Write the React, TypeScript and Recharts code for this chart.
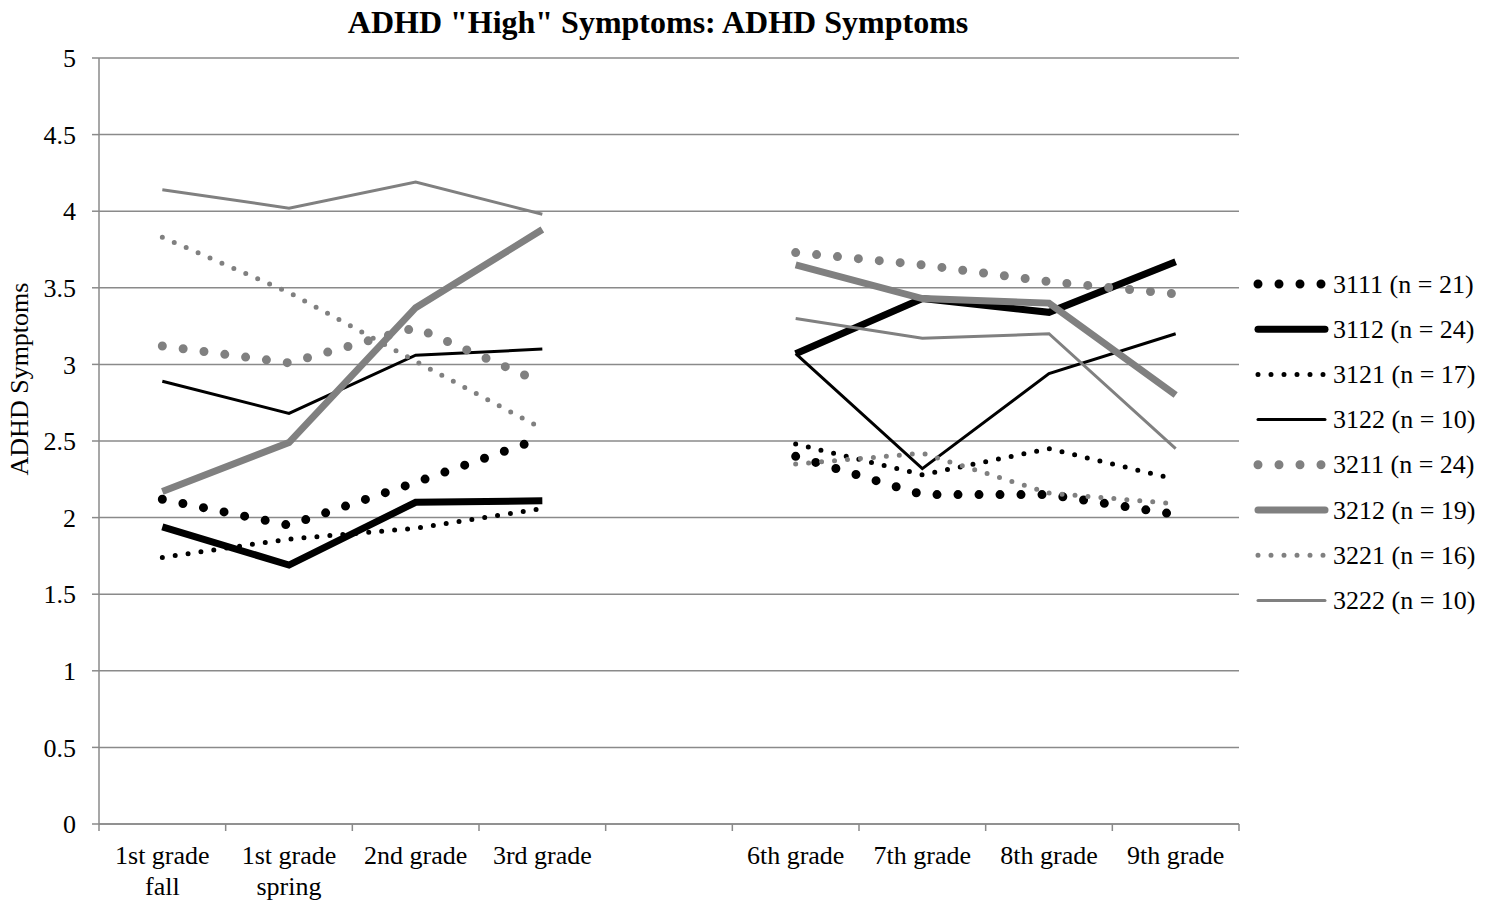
import React from "react";
import { LineChart, Line, XAxis, YAxis, CartesianGrid } from "recharts";

// grade points; the empty slot separates elementary from middle/high school
const categories = [
  "1st grade\nfall",
  "1st grade\nspring",
  "2nd grade",
  "3rd grade",
  "",
  "6th grade",
  "7th grade",
  "8th grade",
  "9th grade",
];

const s3111 = [2.12, 1.95, 2.23, 2.52, null, 2.4, 2.15, 2.15, 2.02];
const s3112 = [1.94, 1.69, 2.1, 2.11, null, 3.07, 3.43, 3.34, 3.67];
const s3121 = [1.74, 1.86, 1.93, 2.06, null, 2.48, 2.28, 2.45, 2.25];
const s3122 = [2.89, 2.68, 3.06, 3.1, null, 3.07, 2.32, 2.94, 3.2];
const s3211 = [3.12, 3.01, 3.24, 2.88, null, 3.73, 3.65, 3.54, 3.46];
const s3212 = [2.17, 2.49, 3.37, 3.88, null, 3.65, 3.43, 3.4, 2.8];
const s3221 = [3.83, 3.47, 3.02, 2.58, null, 2.35, 2.42, 2.16, 2.09];
const s3222 = [4.14, 4.02, 4.19, 3.98, null, 3.3, 3.17, 3.2, 2.45];

const yTicks = [0, 0.5, 1, 1.5, 2, 2.5, 3, 3.5, 4, 4.5, 5];

const BLACK = "#000000";
const GRAY = "#808080";
const GRID = "#8a8a8a";
const FONT = "'Liberation Serif', 'Times New Roman', serif";

const series = [
  { key: "s3111", name: "3111 (n = 21)", values: s3111, color: BLACK, width: 9, dash: "0 21" },
  { key: "s3112", name: "3112 (n = 24)", values: s3112, color: BLACK, width: 7, dash: undefined },
  { key: "s3121", name: "3121 (n = 17)", values: s3121, color: BLACK, width: 5, dash: "0 13" },
  { key: "s3122", name: "3122 (n = 10)", values: s3122, color: BLACK, width: 3, dash: undefined },
  { key: "s3211", name: "3211 (n = 24)", values: s3211, color: GRAY, width: 9, dash: "0 21" },
  { key: "s3212", name: "3212 (n = 19)", values: s3212, color: GRAY, width: 7, dash: undefined },
  { key: "s3221", name: "3221 (n = 16)", values: s3221, color: GRAY, width: 5, dash: "0 13" },
  { key: "s3222", name: "3222 (n = 10)", values: s3222, color: GRAY, width: 3, dash: undefined },
];

const data = categories.map((name, i) => {
  const row: Record<string, any> = { name };
  series.forEach((s) => {
    row[s.key] = s.values[i];
  });
  return row;
});

const W = 1485;
const H = 903;
const MARGIN = { top: 58, right: 246, bottom: 0, left: 0 };
const Y_AXIS_W = 99;
const X_AXIS_H = 79;
const BAND = (W - MARGIN.left - MARGIN.right - Y_AXIS_W) / categories.length;

// category label plus the tick marks sitting on band boundaries
const GradeTick = (props: any) => {
  const { x, y, payload, index } = props;
  const lines = String(payload.value).split("\n");
  const left = x - BAND / 2;
  const right = x + BAND / 2;
  return (
    <g>
      <line x1={left} x2={left} y1={y} y2={y + 7} stroke={GRID} strokeWidth={1.5} />
      {index === categories.length - 1 && (
        <line x1={right} x2={right} y1={y} y2={y + 7} stroke={GRID} strokeWidth={1.5} />
      )}
      <text x={x} y={y + 40} textAnchor="middle" fontFamily={FONT} fontSize={26} fill="#000">
        {lines.map((l, i) => (
          <tspan key={i} x={x} dy={i === 0 ? 0 : 31}>
            {l}
          </tspan>
        ))}
      </text>
    </g>
  );
};

function SideLegend() {
  return (
    <svg
      width={240}
      height={380}
      style={{ position: "absolute", left: 1245, top: 260 }}
    >
      {series.map((s, i) => {
        const cy = 24 + i * 45.2;
        const x1 = 13;
        const x2 = s.dash === "0 21" ? 77 : 80;
        return (
          <g key={s.key}>
            <line
              x1={x1}
              x2={x2}
              y1={cy}
              y2={cy}
              stroke={s.color}
              strokeWidth={s.width}
              strokeDasharray={s.dash}
              strokeLinecap="round"
            />
            <text
              x={88}
              y={cy}
              dominantBaseline="central"
              fontFamily={FONT}
              fontSize={26}
              fill="#000"
            >
              {s.name}
            </text>
          </g>
        );
      })}
    </svg>
  );
}

export default function App() {
  return (
    <div style={{ position: "relative", width: W, height: H, background: "#fff" }}>
      <style>{`body { margin: 0; }`}</style>
      <div
        style={{
          position: "absolute",
          left: 0,
          top: 6,
          width: 1316,
          textAlign: "center",
          fontFamily: FONT,
          fontWeight: "bold",
          fontSize: 32,
          lineHeight: "32px",
        }}
      >
        ADHD "High" Symptoms: ADHD Symptoms
      </div>
      <div
        style={{
          position: "absolute",
          left: 20 - 150,
          top: 379 - 15,
          width: 300,
          height: 30,
          lineHeight: "30px",
          textAlign: "center",
          transform: "rotate(-90deg)",
          fontFamily: FONT,
          fontSize: 26,
        }}
      >
        ADHD Symptoms
      </div>
      <LineChart width={W} height={H} data={data} margin={MARGIN}>
        <CartesianGrid vertical={false} stroke={GRID} strokeWidth={1.5} />
        <XAxis
          dataKey="name"
          interval={0}
          height={X_AXIS_H}
          padding={{ left: BAND / 2, right: BAND / 2 }}
          tickLine={false}
          tickSize={0}
          tickMargin={0}
          axisLine={{ stroke: GRID, strokeWidth: 1.5 }}
          tick={<GradeTick />}
        />
        <YAxis
          width={Y_AXIS_W}
          domain={[0, 5]}
          ticks={yTicks}
          interval={0}
          tickSize={7}
          tickMargin={16}
          tickLine={{ stroke: GRID, strokeWidth: 1.5 }}
          axisLine={{ stroke: GRID, strokeWidth: 1.5 }}
          tick={{ fill: "#000", fontSize: 26, fontFamily: FONT }}
        />
        {series.map((s) => (
          <Line
            key={s.key}
            type="linear"
            dataKey={s.key}
            name={s.name}
            stroke={s.color}
            strokeWidth={s.width}
            strokeDasharray={s.dash}
            strokeLinecap={s.dash ? "round" : "butt"}
            dot={false}
            activeDot={false}
            isAnimationActive={false}
          />
        ))}
      </LineChart>
      <SideLegend />
    </div>
  );
}
